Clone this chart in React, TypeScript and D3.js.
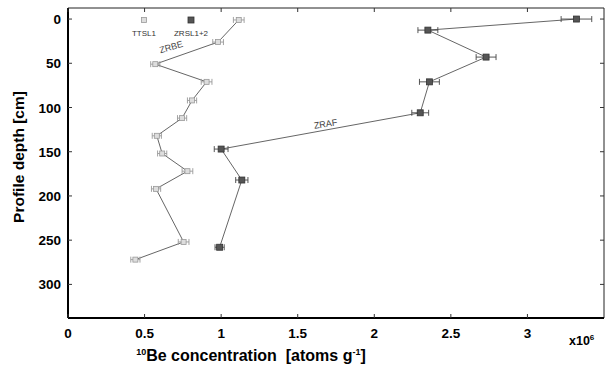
import React from "react";
import * as d3 from "d3";

// TTSL1 (ZRBE) profile: 10Be in 1e6 atoms/g vs depth in cm
const ttslDepth = [1, 26, 51, 71, 92, 112, 132, 152, 172, 192, 252, 272];
const ttslConc = [1.115, 0.98, 0.57, 0.905, 0.81, 0.745, 0.58, 0.615, 0.78, 0.575, 0.755, 0.44];
const ttslErr = [0.035, 0.035, 0.03, 0.035, 0.03, 0.03, 0.03, 0.03, 0.035, 0.03, 0.035, 0.03];

// ZRSL1+2 (ZRAF) profile
const zrslDepth = [0, 12.5, 43, 71, 106, 147, 182, 258];
const zrslConc = [3.32, 2.35, 2.73, 2.36, 2.3, 1.0, 1.135, 0.99];
const zrslErr = [0.1, 0.065, 0.065, 0.065, 0.055, 0.045, 0.04, 0.03];

const xTicks = [0, 0.5, 1, 1.5, 2, 2.5, 3];
const yTicks = [0, 50, 100, 150, 200, 250, 300];

const W = 612;
const H = 371;
const L = 68, R = 604, T = 8, B = 318;

export default function App() {
  const x = d3.scaleLinear().domain([0, 3.5]).range([L, R]);
  const y = d3.scaleLinear().domain([-12.5, 338]).range([T, B]);

  const ttsl = ttslDepth.map((d, i) => ({ d, c: ttslConc[i], e: ttslErr[i] }));
  const zrsl = zrslDepth.map((d, i) => ({ d, c: zrslConc[i], e: zrslErr[i] }));

  const line = d3.line<{ d: number; c: number }>().x(p => x(p.c)).y(p => y(p.d));

  const font = "Liberation Sans, Arial, sans-serif";

  const errBars = (pts: { d: number; c: number; e: number }[], color: string) =>
    pts.map((p, i) => {
      const yy = y(p.d);
      const x0 = x(p.c - p.e);
      const x1 = x(p.c + p.e);
      return (
        <g key={i} stroke={color} strokeWidth={0.9}>
          <line x1={x0} x2={x1} y1={yy} y2={yy} />
          <line x1={x0} x2={x0} y1={yy - 3} y2={yy + 3} />
          <line x1={x1} x2={x1} y1={yy - 3} y2={yy + 3} />
        </g>
      );
    });

  return (
    <svg width={W} height={H} style={{ position: "absolute", left: 0, top: 0, background: "#fff" }}>
      <rect x={0} y={0} width={W} height={H} fill="#fff" />
      {/* frame */}
      <line x1={L} x2={R} y1={T} y2={T} stroke="#222" strokeWidth={1} />
      <line x1={R} x2={R} y1={T} y2={B} stroke="#222" strokeWidth={1} />
      <line x1={L} x2={L} y1={T} y2={B} stroke="#000" strokeWidth={2} />
      <line x1={L} x2={R} y1={B} y2={B} stroke="#000" strokeWidth={2} />

      {/* ticks */}
      {xTicks.map(t => (
        <g key={"x" + t}>
          <line x1={x(t)} x2={x(t)} y1={B} y2={B - 4} stroke="#333" />
          <line x1={x(t)} x2={x(t)} y1={T} y2={T + 4} stroke="#333" />
          <text x={x(t)} y={B + 20} textAnchor="middle" fontFamily={font} fontWeight="bold" fontSize={13.5}>
            {t}
          </text>
        </g>
      ))}
      {yTicks.map(t => (
        <g key={"y" + t}>
          <line x1={L} x2={L + 4} y1={y(t)} y2={y(t)} stroke="#333" />
          <line x1={R} x2={R - 4} y1={y(t)} y2={y(t)} stroke="#333" />
          <text x={L - 7} y={y(t) + 5} textAnchor="end" fontFamily={font} fontWeight="bold" fontSize={13.5}>
            {t}
          </text>
        </g>
      ))}

      {/* axis titles */}
      <text
        transform={`translate(24, ${(T + B) / 2 - 6}) rotate(-90)`}
        textAnchor="middle"
        fontFamily={font}
        fontWeight="bold"
        fontSize={15.5}
      >
        Profile depth [cm]
      </text>
      <text x={251} y={361} textAnchor="middle" fontFamily={font} fontWeight="bold" fontSize={16}>
        <tspan fontSize={9} dy={-6}>10</tspan>
        <tspan dy={6}>{"Be concentration\u00a0\u00a0[atoms g"}</tspan>
        <tspan fontSize={9} dy={-6}>-1</tspan>
        <tspan dy={6}>]</tspan>
      </text>
      <text x={569} y={345} fontFamily={font} fontWeight="bold" fontSize={12.5}>
        x10<tspan fontSize={8} dy={-5}>6</tspan>
      </text>

      {/* series lines */}
      <path d={line(ttsl) ?? ""} fill="none" stroke="#666" strokeWidth={1} />
      <path d={line(zrsl) ?? ""} fill="none" stroke="#666" strokeWidth={1} />

      {/* error bars */}
      {errBars(ttsl, "#999")}
      {errBars(zrsl, "#444")}

      {/* markers */}
      {ttsl.map((p, i) => (
        <rect key={"t" + i} x={x(p.c) - 2.5} y={y(p.d) - 2.5} width={5} height={5} fill="#ddd" stroke="#999" strokeWidth={0.8} />
      ))}
      {zrsl.map((p, i) => (
        <rect key={"z" + i} x={x(p.c) - 3} y={y(p.d) - 3} width={6} height={6} fill="#555" stroke="#333" strokeWidth={0.8} />
      ))}

      {/* legend */}
      <rect x={141.5} y={17.5} width={5} height={5} fill="#ddd" stroke="#999" strokeWidth={0.8} />
      <text x={144} y={36} textAnchor="middle" fontFamily={font} fontSize={8} fill="#333">TTSL1</text>
      <rect x={188} y={17} width={6} height={6} fill="#555" stroke="#333" strokeWidth={0.8} />
      <text x={191} y={36} textAnchor="middle" fontFamily={font} fontSize={8} fill="#333">ZRSL1+2</text>

      {/* profile labels */}
      <text transform="translate(172, 50) rotate(-16)" textAnchor="middle" fontFamily={font} fontSize={9} fill="#444">
        ZRBE
      </text>
      <text transform="translate(326, 127) rotate(-9)" textAnchor="middle" fontFamily={font} fontSize={9} fill="#444">
        ZRAF
      </text>
    </svg>
  );
}
